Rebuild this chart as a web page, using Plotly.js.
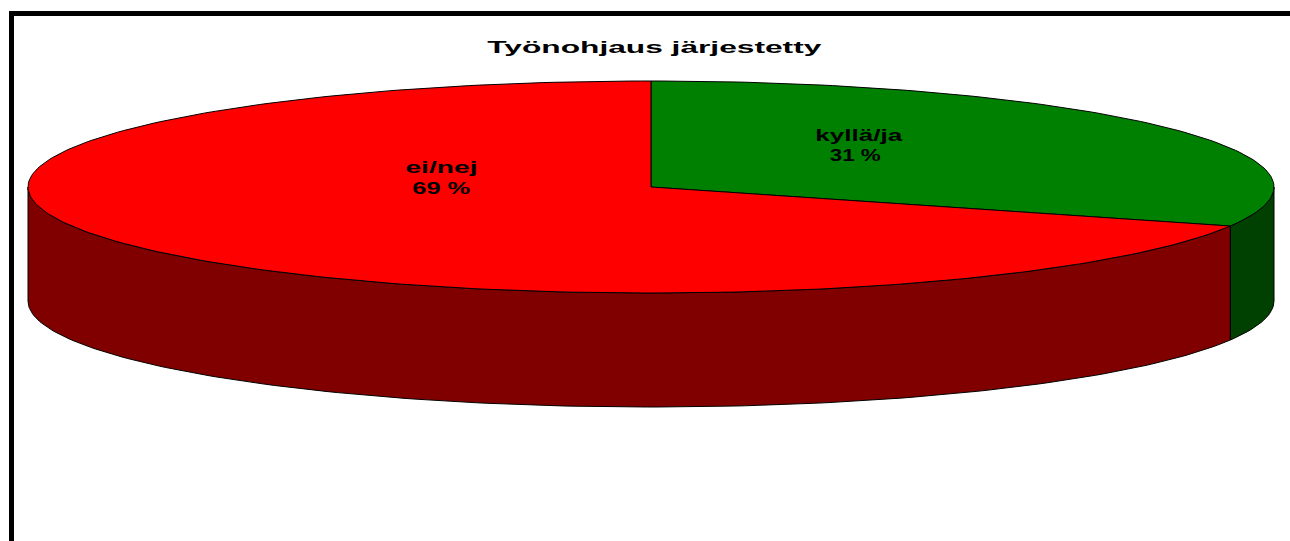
<!DOCTYPE html>
<html>
<head>
<meta charset="utf-8">
<script src="https://cdn.plot.ly/plotly-3.0.1.min.js"></script>
<style>
  html, body { margin: 0; padding: 0; background: #fff; }
  #plot { width: 1290px; height: 541px; }
</style>
</head>
<body>
<div id="plot"></div>
<script>
// ---- data ----
const chartTitle = "Työnohjaus järjestetty";
const categories = ["kyllä/ja", "ei/nej"];
const values = [31, 69];

// ---- style ----
const topColors = ["#008000", "#FF0000"];
const sideColors = ["#004000", "#800000"];
const geom = { cx: 651, cy: 187, rx: 623, ry: 106, depth: 114, startDeg: 90 };
// label anchor positions (pixel space) for [category line, value line]
const labelPos = [
  [[858, 135], [855, 155]],
  [[441, 167], [441, 188]]
];
// horizontal widths the reference text is stretched to
const textWidths = {
  "Työnohjaus järjestetty": 334,
  "kyllä/ja": 87, "31 %": 51,
  "ei/nej": 72, "69 %": 58
};

const FONT = "Liberation Sans, Arial, sans-serif";
const total = values.reduce((a, b) => a + b, 0);
const rad = d => d * Math.PI / 180;
const pt = (deg, dy) => [geom.cx + geom.rx * Math.cos(rad(deg)), geom.cy - geom.ry * Math.sin(rad(deg)) + (dy || 0)];

// slice angle ranges (clockwise from top)
const slices = [];
let a = geom.startDeg;
values.forEach((v, i) => {
  const sweep = v / total * 360;
  slices.push({ hi: a, lo: a - sweep, i });
  a -= sweep;
});

function arc(hi, lo, dy) {
  const n = Math.max(8, Math.ceil((hi - lo) / 1));
  const xs = [], ys = [];
  for (let k = 0; k <= n; k++) {
    const p = pt(hi - (hi - lo) * k / n, dy);
    xs.push(p[0]); ys.push(p[1]);
  }
  return [xs, ys];
}

const traces = [];
// side walls (front half visible: angles in [k*360-180, k*360])
slices.forEach(s => {
  for (let k = -2; k <= 1; k++) {
    const fLo = k * 360 - 180, fHi = k * 360;
    const hi = Math.min(s.hi, fHi), lo = Math.max(s.lo, fLo);
    if (hi - lo > 1e-6) {
      const [tx, ty] = arc(hi, lo, 0);
      const [bx, by] = arc(hi, lo, geom.depth);
      traces.push({
        type: "scatter", mode: "lines", fill: "toself",
        x: tx.concat(bx.reverse(), [tx[0]]),
        y: ty.concat(by.reverse(), [ty[0]]),
        fillcolor: sideColors[s.i], line: { color: "#000", width: 1 },
        hoverinfo: "skip", showlegend: false
      });
    }
  }
});
// top faces
slices.forEach(s => {
  const [tx, ty] = arc(s.hi, s.lo, 0);
  traces.push({
    type: "scatter", mode: "lines", fill: "toself",
    x: [geom.cx].concat(tx, [geom.cx]),
    y: [geom.cy].concat(ty, [geom.cy]),
    fillcolor: topColors[s.i], line: { color: "#000", width: 1 },
    hoverinfo: "skip", showlegend: false, name: categories[s.i]
  });
});

const annotations = [];
categories.forEach((c, i) => {
  const lines = [c, values[i] + " %"];
  lines.forEach((t, j) => {
    annotations.push({
      text: t, x: labelPos[i][j][0], y: labelPos[i][j][1],
      xref: "x", yref: "y", showarrow: false, xanchor: "center", yanchor: "middle",
      font: { family: FONT, size: 16, color: "#000", weight: "bold" }
    });
  });
});
annotations.push({
  text: chartTitle, x: 654, y: 47, xref: "x", yref: "y", showarrow: false,
  xanchor: "center", yanchor: "middle",
  font: { family: FONT, size: 16, color: "#000", weight: "bold" }
});

const layout = {
  width: 1290, height: 541,
  margin: { l: 0, r: 0, t: 0, b: 0, pad: 0 },
  paper_bgcolor: "#fff", plot_bgcolor: "#fff",
  xaxis: { range: [0, 1290], autorange: false, visible: false, fixedrange: true },
  yaxis: { range: [541, 0], autorange: false, visible: false, fixedrange: true },
  showlegend: false,
  annotations: annotations,
  shapes: [
    { type: "line", xref: "x", yref: "y", x0: 9, x1: 1295, y0: 13.5, y1: 13.5, line: { color: "#000", width: 5 }, layer: "above" },
    { type: "line", xref: "x", yref: "y", x0: 11.5, x1: 11.5, y0: 11, y1: 545, line: { color: "#000", width: 5 }, layer: "above" }
  ]
};

Plotly.newPlot("plot", traces, layout, { staticPlot: true, displayModeBar: false }).then(gd => {
  gd.querySelectorAll("text").forEach(t => {
    const w = textWidths[t.textContent];
    if (w) {
      t.setAttribute("textLength", w);
      t.setAttribute("lengthAdjust", "spacingAndGlyphs");
    }
  });
});
</script>
</body>
</html>
